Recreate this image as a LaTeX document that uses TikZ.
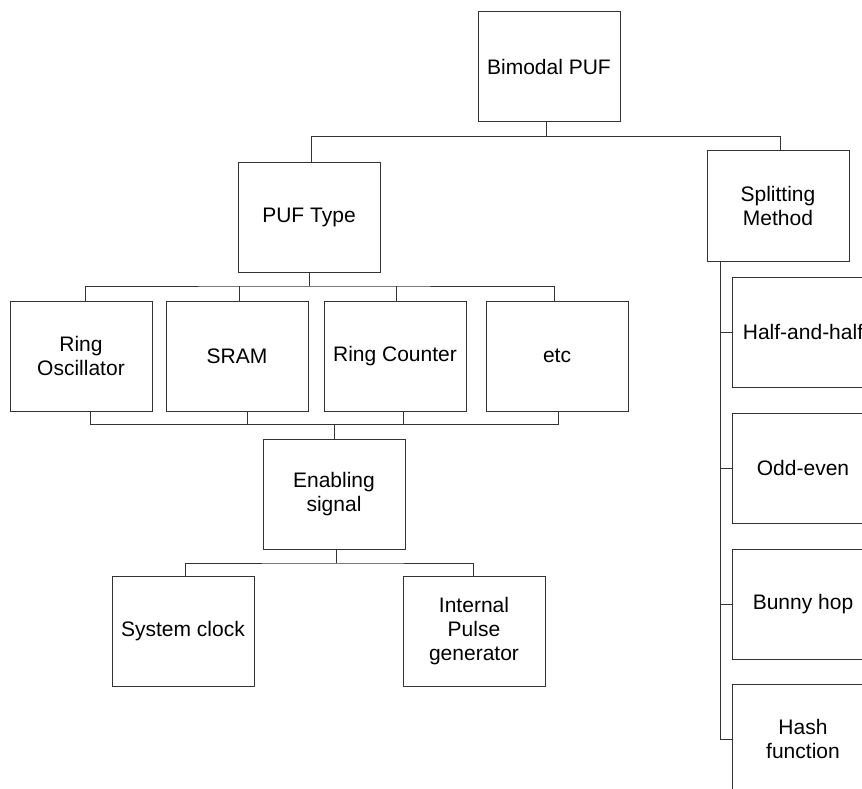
\documentclass[tikz,border=0pt]{standalone}
\usepackage{fontspec}
\setmainfont{Liberation Sans}
\begin{document}
\begin{tikzpicture}[x=1pt,y=-1pt,
  box/.style={draw=black!80, line width=1pt, minimum width=142pt, minimum height=110pt,
    align=center, inner sep=2pt, font=\fontsize{21}{24.2}\selectfont},
  wire/.style={draw=black!80, line width=1pt}]
\useasboundingbox (0,0) rectangle (862,789);
\clip (0,0) rectangle (862,789);

% tree nodes
\node[box] (bim)   at (549,67)    {Bimodal PUF};
\node[box] (pt)    at (309,217.5) {PUF Type};
\node[box] (sm)    at (778,206)   {Splitting\\Method};
\node[box] (ro)    at (81,356)    {Ring\\Oscillator};
\node[box] (sram)  at (237,356)   {SRAM};
\node[box] (rc)    at (395,356)   {Ring Counter};
\node[box] (etc)   at (557,356)   {etc};
\node[box] (en)    at (334,494)   {Enabling\\signal};
\node[box] (sc)    at (183,631)   {System clock};
\node[box] (ip)    at (474,631)   {Internal\\Pulse\\generator};
\node[box] (half)  at (803,332)   {Half-and-half};
\node[box] (odd)   at (803,468)   {Odd-even};
\node[box] (bunny) at (803,604)   {Bunny hop};
\node[box] (hash)  at (803,739)   {Hash\\function};

% junction points of the orthogonal connectors
\coordinate (j1) at (546,136.7);
\coordinate (j2) at (309,286);
\coordinate (j3) at (334,424.5);
\coordinate (j4) at (336,563);
\coordinate (trunk) at ([xshift=-58pt]sm.south);

% root -> PUF Type / Splitting Method
\draw[wire] ([xshift=-3pt]bim.south) -- (j1);
\draw[wire] ([xshift=2pt]pt.north) |- (j1) -| ([xshift=2pt]sm.north);

% PUF Type -> four kinds
\draw[wire] (pt.south) -- (j2);
\draw[wire] ([xshift=4pt]ro.north) |- (j2) -| ([xshift=-3pt]etc.north);
\draw[wire] ([xshift=2pt]sram.north) -- ([xshift=2pt]sram.north |- j2);
\draw[wire] ([xshift=1pt]rc.north) -- ([xshift=1pt]rc.north |- j2);

% four kinds -> Enabling signal
\draw[wire] ([xshift=9pt]ro.south) |- (j3) -| ([xshift=1pt]etc.south);
\draw[wire] ([xshift=10pt]sram.south) -- ([xshift=10pt]sram.south |- j3);
\draw[wire] ([xshift=8pt]rc.south) -- ([xshift=8pt]rc.south |- j3);
\draw[wire] (j3) -- (en.north);

% Enabling signal -> sources
\draw[wire] ([xshift=2pt]en.south) -- (j4);
\draw[wire] ([xshift=2pt]sc.north) |- (j4) -| ([xshift=-1pt]ip.north);

% Splitting Method -> methods
\draw[wire] (trunk) |- (hash.west);
\draw[wire] (half.west -| trunk) -- (half.west);
\draw[wire] (odd.west -| trunk) -- (odd.west);
\draw[wire] (bunny.west -| trunk) -- (bunny.west);
\end{tikzpicture}
\end{document}
